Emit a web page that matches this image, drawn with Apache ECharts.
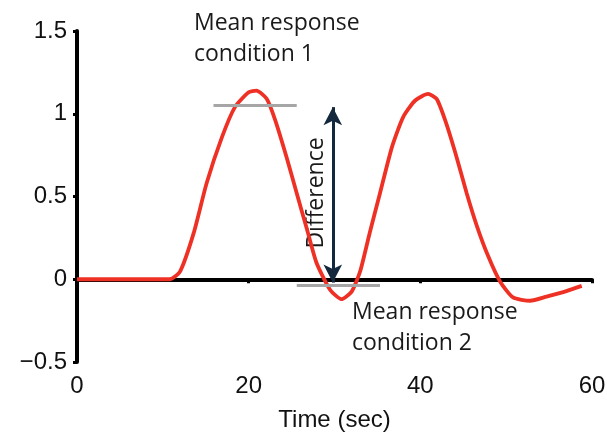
<!DOCTYPE html>
<html><head><meta charset="utf-8">
<script src="https://cdn.jsdelivr.net/npm/echarts@6/dist/echarts.min.js"></script>
<style>html,body{margin:0;padding:0;background:#fff}#c{width:607px;height:437px}</style>
</head><body><div id="c"></div>
<script>
// Time (sec) and response values
const timeSec = [0, 5, 10.8, 12.0, 13.6, 15.1, 16.9, 18.4, 20.0, 20.9, 22.1, 23.1, 24.4, 25.6, 26.8, 27.9, 29.5, 30.8, 32.0, 33.0, 34.1, 35.3, 36.7, 38.0, 39.4, 40.9, 41.9, 42.9, 44.1, 45.4, 46.6, 47.9, 49.3, 50.8, 52.8, 54.7, 57.1, 58.8];
const response = [0, 0, 0, 0.046, 0.28, 0.58, 0.86, 1.04, 1.13, 1.14, 1.09, 0.96, 0.74, 0.52, 0.30, 0.10, -0.065, -0.12, -0.075, 0.05, 0.28, 0.52, 0.80, 0.98, 1.08, 1.12, 1.09, 0.96, 0.76, 0.52, 0.32, 0.14, -0.015, -0.11, -0.13, -0.105, -0.07, -0.04];
const xTicks = [0, 20, 40, 60];
const yTicks = [-0.5, 0, 0.5, 1, 1.5];
// Annotation values
const mean1 = {x0: 15.9, x1: 25.6, y: 1.05};
const mean2 = {x0: 25.6, x1: 35.3, y: -0.034};
const diffArrow = {x: 29.8, yTop: 1.04, yBottom: -0.02};

const chart = echarts.init(document.getElementById('c'));
const fmt = v => String(v).replace('-', '\u2212');
chart.setOption({
  animation: false,
  grid: {left: 77, right: 15, top: 31, bottom: 75, containLabel: false, outerBoundsMode: 'none'},
  xAxis: {
    type: 'value', min: xTicks[0], max: xTicks[xTicks.length-1], interval: 20,
    name: 'Time (sec)', nameLocation: 'middle', nameGap: 46,
    nameTextStyle: {fontFamily: 'Liberation Sans', fontSize: 24, color: '#111'},
    axisLine: {lineStyle: {color: '#000', width: 4}},
    axisTick: {length: 4, lineStyle: {color: '#000', width: 3}},
    axisLabel: {fontFamily: 'Liberation Sans', fontSize: 24, color: '#111', margin: 12, formatter: fmt},
    splitLine: {show: false}
  },
  yAxis: {
    type: 'value', min: yTicks[0], max: yTicks[yTicks.length-1], interval: 0.5,
    axisLine: {lineStyle: {color: '#000', width: 4}},
    axisTick: {length: 4, lineStyle: {color: '#000', width: 3}},
    axisLabel: {fontFamily: 'Liberation Sans', fontSize: 24, color: '#111', margin: 10, formatter: fmt},
    splitLine: {show: false}
  },
  series: [
    {
      type: 'line', data: timeSec.map((t, i) => [t, response[i]]),
      symbol: 'none', smooth: 0.2,
      lineStyle: {color: '#ee3124', width: 3.8},
      z: 3
    },
    {
      type: 'line', data: [], symbol: 'none', silent: true,
      markLine: {
        silent: true, symbol: 'none', label: {show: false},
        lineStyle: {color: '#a6a6a6', width: 3, type: 'solid'},
        data: [
          [{coord: [mean1.x0, mean1.y]}, {coord: [mean1.x1, mean1.y]}],
          [{coord: [mean2.x0, mean2.y]}, {coord: [mean2.x1, mean2.y]}]
        ]
      },
      z: 2
    },
    {
      type: 'line', data: [], symbol: 'none', silent: true,
      markLine: {
        silent: true, symbol: ['arrow', 'arrow'], symbolSize: [14, 18], label: {show: false},
        lineStyle: {color: '#14283d', width: 3, type: 'solid'},
        data: [
          [{coord: [diffArrow.x, diffArrow.yBottom]}, {coord: [diffArrow.x, diffArrow.yTop]}]
        ]
      },
      z: 4
    }
  ],
  graphic: [
    {type: 'text', left: 194, top: 8, style: {text: 'Mean response\ncondition 1', font: '23px "Open Sans"', fill: '#1a1a1a', lineHeight: 31}},
    {type: 'text', left: 352, top: 297, style: {text: 'Mean response\ncondition 2', font: '23px "Open Sans"', fill: '#1a1a1a', lineHeight: 31}},
    {type: 'text', x: 316, y: 193, rotation: Math.PI/2, style: {text: 'Difference', font: '23px "Open Sans"', fill: '#1a1a1a', align: 'center', verticalAlign: 'middle'}}
  ]
});
</script>
</body></html>
